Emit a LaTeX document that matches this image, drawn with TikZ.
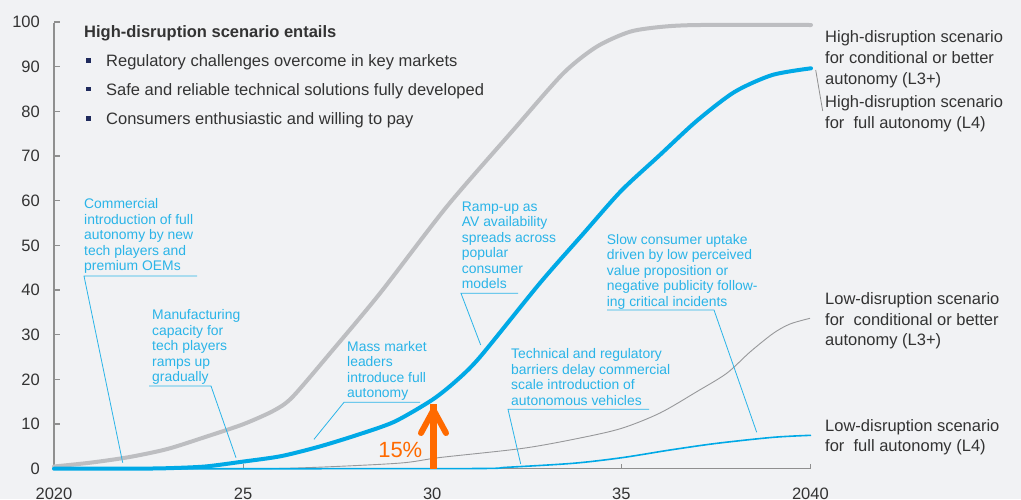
\documentclass[tikz,border=0pt]{standalone}
\usepackage{fontspec}
\setmainfont{Liberation Sans}
\definecolor{bg}{HTML}{F1F2F4}
\definecolor{curvegray}{HTML}{BDBEC1}
\definecolor{curveblue}{HTML}{00A9E6}
\definecolor{annotblue}{HTML}{2AB4E8}
\definecolor{txt}{HTML}{333333}
\definecolor{axisgray}{HTML}{8F8F8F}
\definecolor{bulletnavy}{HTML}{1F2A5C}
\definecolor{arroworange}{HTML}{FF6A00}
\begin{document}
\begin{tikzpicture}[x=1pt,y=-1pt,
  annot/.style={font=\fontsize{13.9}{15.5}\selectfont, text=annotblue, align=left, inner sep=0pt, anchor=base west},
  lead/.style={draw=annotblue, line width=0.8pt},
  lbl/.style={font=\fontsize{16.5}{20.8}\selectfont, text=txt, align=left, inner sep=0pt, anchor=base west},
  ticklbl/.style={font=\fontsize{16.5}{19}\selectfont, text=txt, inner sep=0pt},
  axisline/.style={draw=axisgray, line width=1.2pt},
  highgray/.style={draw=curvegray, line width=4pt, line join=round, line cap=round},
  highblue/.style={draw=curveblue, line width=4pt, line join=round, line cap=round},
  lowgray/.style={draw=curvegray!80!black, line width=0.9pt, line join=round},
  lowblue/.style={draw=curveblue, line width=1.6pt, line join=round},
  bulletsq/.style={fill=bulletnavy, minimum size=4.8pt, inner sep=0pt, draw=none},
]
\fill[bg] (0,0) rectangle (1021,499);
\useasboundingbox (0,0) rectangle (1021,499);

% axes
\draw[axisline] (54,22.5) -- (54,468.7) -- (810.4,468.7);
\foreach \v in {0,10,...,100}{
  \pgfmathsetmacro{\yy}{468.7-4.467*\v}
  \draw[axisline] (54,\yy) -- (59.5,\yy);
  \node[ticklbl, anchor=east] (ylab\v) at (40,\yy) {\v};
}
\foreach \t/\lab in {0/2020,5/25,10/30,15/35,20/2040}{
  \pgfmathsetmacro{\xx}{54+37.82*\t}
  \draw[axisline] (\xx,468.7) -- (\xx,463.5);
  \node[ticklbl, anchor=north] (xlab\t) at (\xx,487.5) {\lab};
}

% low-disruption curves
\draw[lowgray] plot[smooth, tension=0.5] coordinates {(54,468.7) (200,468.7) (290,468.2) (397,463.3) (440,457.5) (523,448.3) (580,438) (621.7,428.3) (660,413) (696.7,391.7) (726.7,373.3) (750,352) (773.3,333.3) (790,324) (810,318.3)};
\draw[lowblue] plot[smooth, tension=0.5] coordinates {(54,468.7) (300,468.7) (480,468.5) (507,467.3) (573,463.3) (621.7,457.7) (670,450) (717,443.3) (773.3,437.3) (811,435.3)};

% high-disruption curves
\draw[highgray] plot[smooth, tension=0.45] coordinates {(54,466.5) (91.8,462.5) (129.6,457) (167.4,449) (205.2,437) (243,424.3) (273,411) (292,397.5) (330,353.3) (380,293.3) (446.7,206.7) (513.3,130) (563.3,73.3) (596.7,46.7) (630,31.7) (663,26.7) (700,25) (811,25)};
\draw[highblue] plot[smooth, tension=0.45] coordinates {(54,468.7) (129.6,468.7) (167.4,468.2) (205.2,466.5) (243,461.6) (280.8,456.2) (318.6,446.8) (356.4,435.2) (394.2,421.8) (432,400) (456,381) (480,357) (540,283) (583,234) (621,191) (658.8,156) (696.6,121) (734.4,92) (772.2,75) (811,68.3)};

% top-left box
\node[font=\bfseries\fontsize{16.5}{19}\selectfont, text=txt, inner sep=0pt, anchor=base west] (title) at (84,37.5) {High-disruption scenario entails};
\node[bulletsq] (b1) at (88.2,60.6) {};
\node[bulletsq] (b2) at (88.2,89) {};
\node[bulletsq] (b3) at (88.2,118.6) {};
\node[lbl] (t1) at (106,66.5) {Regulatory challenges overcome in key markets};
\node[lbl] (t2) at (106,95) {Safe and reliable technical solutions fully developed};
\node[lbl] (t3) at (106,124.5) {Consumers enthusiastic and willing to pay};

% annotations (anchor = baseline of the last line)
\node[annot] (a1) at (84,270.5) {Commercial\\introduction of full\\autonomy by new\\tech players and\\premium OEMs};
\coordinate (u1a) at (84,276); \coordinate (u1b) at (197,276); \coordinate (p1) at (122.7,462.7);
\draw[lead] (u1b) -- (u1a) -- (p1);

\node[annot] (a2) at (152,381.5) {Manufacturing\\capacity for\\tech players\\ramps up\\gradually};
\coordinate (u2a) at (149,386); \coordinate (u2b) at (211,386); \coordinate (p2) at (236,457.7);
\draw[lead] (u2a) -- (u2b) -- (p2);

\node[annot] (a3) at (347,397.5) {Mass market\\leaders\\introduce full\\autonomy};
\coordinate (u3a) at (344,402.3); \coordinate (u3b) at (420,402.3); \coordinate (p3) at (314,439.3);
\draw[lead] (u3b) -- (u3a) -- (p3);

\node[annot] (a4) at (461.7,288.5) {Ramp-up as\\AV availability\\spreads across\\popular\\consumer\\models};
\coordinate (u4a) at (461,293.3); \coordinate (u4b) at (518,293.3); \coordinate (p4) at (480.7,345);
\draw[lead] (u4b) -- (u4a) -- (p4);

\node[annot] (a5) at (511,405) {Technical and regulatory\\barriers delay commercial\\scale introduction of\\autonomous vehicles};
\coordinate (u5a) at (508,409.3); \coordinate (u5b) at (649,409.3); \coordinate (p5) at (520.7,464);
\draw[lead] (u5b) -- (u5a) -- (p5);

\node[annot] (a6) at (606.7,306) {Slow consumer uptake\\driven by low perceived\\value proposition or\\negative publicity follow-\\ing critical incidents};
\coordinate (u6a) at (607,310); \coordinate (u6b) at (714,310); \coordinate (p6) at (756.7,432.3);
\draw[lead] (u6a) -- (u6b) -- (p6);

% right-hand labels (anchor = baseline of the last line)
\node[lbl] (r1) at (825,84.3) {High-disruption scenario\\for conditional or better\\autonomy (L3+)};
\node[lbl] (r2) at (825,128.5) {High-disruption scenario\\for\ \ full autonomy (L4)};
\coordinate (r2a) at (815.7,70); \coordinate (r2b) at (822.7,111);
\draw[draw=axisgray, line width=0.8pt] (r2a) -- (r2b);
\node[lbl] (r3) at (825,345.9) {Low-disruption scenario\\for\ \ conditional or better\\autonomy (L3+)};
\node[lbl] (r4) at (825,451.8) {Low-disruption scenario\\for\ \ full autonomy (L4)};

% orange arrow
\coordinate (arrbase) at (433.5,468.7);
\coordinate (arrtip) at (433.5,410);
\draw[arroworange, line width=7pt] (arrbase) -- ([yshift=6pt]arrtip);
\draw[arroworange, line width=6pt, line cap=round, line join=round] ([shift={(-12.5,23)}]arrtip) -- (arrtip) -- ([shift={(12.5,23)}]arrtip);
\node[font=\fontsize{22}{24}\selectfont, text=arroworange, inner sep=0pt, anchor=east] (pct) at (422.5,449.5) {15\%};
\end{tikzpicture}
\end{document}
